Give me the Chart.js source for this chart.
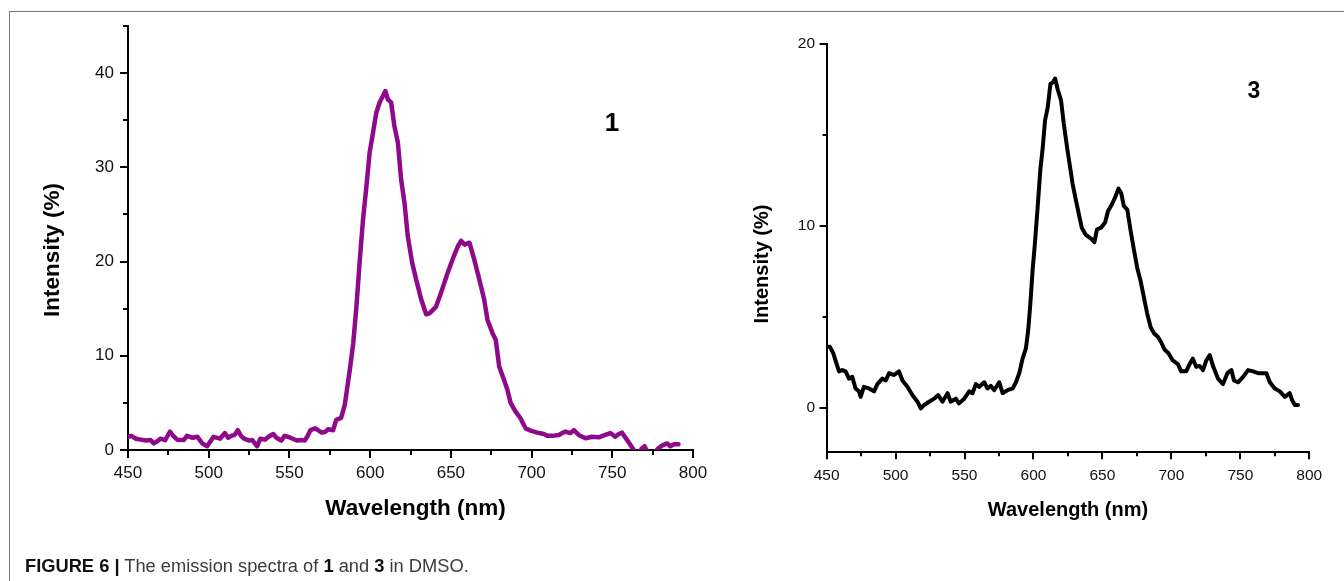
<!DOCTYPE html>
<html>
<head>
<meta charset="utf-8">
<script src="https://cdn.jsdelivr.net/npm/chart.js@4/dist/chart.umd.min.js"></script>
<style>
  html, body { margin: 0; padding: 0; background: #fff; }
  body { width: 1344px; height: 581px; position: relative; overflow: hidden; font-family: 'Liberation Sans', Arial, sans-serif; }
  canvas { position: absolute; top: 0; }
  #c1 { left: 0; }
  #c2 { left: 720px; }
  .frameTop { position: absolute; left: 9px; top: 11px; width: 1335px; height: 0; border-top: 1px solid #7a7a7a; }
  .frameLeft { position: absolute; left: 9px; top: 11px; width: 0; height: 570px; border-left: 1px solid #7a7a7a; }
  .lbl { position: absolute; font-weight: bold; color: #000; text-align: center; }
  .caption { position: absolute; left: 25px; top: 556px; font-size: 18.3px; line-height: 20px; color: #3c3c3c; white-space: nowrap; }
  .caption b { color: #111; }
</style>
</head>
<body>
<div class="frameTop"></div>
<div class="frameLeft"></div>
<canvas id="c1" width="720" height="581"></canvas>
<canvas id="c2" width="624" height="581"></canvas>
<div class="lbl" style="left:597px; top:109px; width:30px; font-size:26px; line-height:26px;">1</div>
<div class="lbl" style="left:1239px; top:79px; width:30px; font-size:23px; line-height:23px;">3</div>
<div class="caption"><b>FIGURE 6 |</b> The emission spectra of <b>1</b> and <b>3</b> in DMSO.</div>
<script>
// ---------- data: compound 1 ----------
const wavelength1 = [450,452,455,458,461,464,466,468,470,473,476,478,480.5,484.5,486.5,490,493,496,499,501,503,507,510,512,514,516,518,520,522,525,527,530,532,535,537,540,542,545,547,550,552,554.5,557,559.5,561,563,566,570,572,574,577,579,582,584.3,587.4,589.5,591.5,593.6,595.6,597.7,599.7,601.8,603.8,605.9,608,609.4,611,613,615,617.2,619.2,621.3,623.3,626,628.5,631.6,634.7,636.7,640.8,643.9,648,651,654.3,656.3,658.4,661.5,664.5,667.6,670.6,672.7,675.8,677.8,679.9,683,685,687,690,693,696.3,699.4,703.5,707.6,710,712.8,716.9,719,721,724,726.2,729.2,733.4,737.5,741.6,745.7,748.8,751.8,754,756,759,762,764,766,768,770,772,775,778,781,784,786,788,791];
const intensity1 = [1.4,1.5,1.2,1.1,1.0,1.05,0.7,0.9,1.2,1.05,1.95,1.5,1.1,1.05,1.5,1.3,1.4,0.7,0.4,0.9,1.4,1.2,1.8,1.3,1.5,1.6,2.1,1.5,1.2,1.0,1.05,0.4,1.2,1.1,1.4,1.7,1.3,1.0,1.5,1.35,1.2,1.0,1.05,1.0,1.4,2.1,2.3,1.85,1.9,2.2,2.1,3.2,3.4,4.8,8.5,11.3,15.2,20.2,24.5,28,31.6,33.7,35.8,36.9,37.6,38.1,37.2,36.9,34.4,32.6,28.7,26.2,22.7,19.9,18.1,16.0,14.4,14.5,15.2,16.7,18.8,20.2,21.6,22.2,21.8,22.0,20.2,18.1,16.0,13.8,12.4,11.7,8.9,7.4,6.4,5.0,4.1,3.4,2.3,2.06,1.84,1.7,1.5,1.5,1.6,1.8,1.95,1.8,2.1,1.6,1.24,1.4,1.35,1.6,1.8,1.4,1.7,1.84,1.1,0.35,-0.2,-0.5,0.1,0.4,-0.3,-0.6,0.1,0.5,0.7,0.4,0.6,0.6];

// ---------- data: compound 3 ----------
const wavelength3 = [450,452.4,454.8,457.3,459,461.4,463.8,466.2,468.6,471,473.5,474.7,477,480.8,484.4,486.8,490.4,492.9,495.3,498.9,502.5,505,508.6,512.2,515.9,518.3,520.7,524.3,528,530.9,534,537.7,540,543.7,546,549.8,553.4,555.8,558.2,560.7,564.3,566.7,569.1,571.5,575.2,577.6,581.2,584.9,587.3,589.7,592.1,594.5,596.2,597.7,599.4,601,603,605,606.7,608.4,610.3,612.3,614.2,615.7,617.6,620,622,624.4,626.8,628.4,630.8,633.3,635,638,641.8,644.2,646,649,652,654,657,659.4,661.6,663.6,665.5,668,670.3,672.8,675.2,677.6,680,682.4,684.9,687.3,690.2,692.6,695,697.9,701,704.7,707.1,710.7,713.2,715.5,718,720.5,722.9,725.3,727.8,730.2,733.8,737.4,740.6,743.5,745.4,748.3,752,755.6,759.2,762.9,766.5,768.9,771.4,775,778.6,782.3,785.8,787.5,789.5,791.8];
const intensity3 = [3.35,3.35,3.0,2.4,2.0,2.07,2.0,1.6,1.7,1.06,0.9,0.6,1.15,1.06,0.9,1.3,1.6,1.5,1.9,1.8,2.0,1.5,1.15,0.7,0.33,-0.04,0.15,0.33,0.5,0.7,0.33,0.8,0.33,0.5,0.24,0.5,0.9,0.8,1.3,1.15,1.4,1.06,1.2,0.97,1.4,0.8,0.97,1.06,1.4,1.9,2.7,3.26,4.27,5.7,7.6,9.0,11.0,13.1,14.3,15.8,16.5,17.8,17.9,18.1,17.5,16.9,15.6,14.3,13.1,12.3,11.4,10.5,9.9,9.5,9.3,9.1,9.8,9.9,10.2,10.8,11.2,11.6,12.05,11.8,11.1,10.9,9.8,8.7,7.7,7.0,6.1,5.2,4.45,4.1,3.9,3.6,3.2,3.0,2.6,2.4,2.0,2.0,2.4,2.7,2.25,2.3,2.07,2.6,2.9,2.3,1.6,1.3,1.9,2.07,1.5,1.4,1.7,2.07,2.0,1.9,1.9,1.9,1.4,1.06,0.9,0.6,0.8,0.42,0.15,0.15];

// ---------- axis ranges / tick labels ----------
const xTickLabels = [450, 500, 550, 600, 650, 700, 750, 800];
const yTickLabels1 = [0, 10, 20, 30, 40];
const yTickLabels3 = [0, 10, 20];

const FONT = "'Liberation Sans', Arial, Helvetica, sans-serif";
Chart.defaults.font.family = FONT;

function isMult(v, s) { return Math.abs(v / s - Math.round(v / s)) < 1e-6; }

function deco(cfg) {
  return {
    id: 'deco',
    afterDraw(chart) {
      const { ctx, chartArea: a, scales: { x, y } } = chart;
      ctx.save();
      ctx.strokeStyle = '#000';
      ctx.lineWidth = 2;
      x.ticks.forEach(t => {
        if (!isMult(t.value, cfg.xMinor)) return;
        const major = isMult(t.value, cfg.xMajor);
        const px = Math.round(x.getPixelForValue(t.value));
        ctx.beginPath();
        ctx.moveTo(px, a.bottom);
        ctx.lineTo(px, a.bottom + (major ? cfg.majorLen : cfg.minorLen));
        ctx.stroke();
      });
      y.ticks.forEach(t => {
        if (!isMult(t.value, cfg.yMinor)) return;
        const major = isMult(t.value, cfg.yMajor);
        const py = Math.round(y.getPixelForValue(t.value));
        ctx.beginPath();
        ctx.moveTo(a.left, py);
        ctx.lineTo(a.left - (major ? cfg.majorLen : cfg.minorLen), py);
        ctx.stroke();
      });
      ctx.fillStyle = '#000';
      ctx.font = 'bold ' + cfg.titleSize + 'px ' + FONT;
      ctx.textAlign = 'center';
      ctx.textBaseline = 'middle';
      ctx.fillText(cfg.xTitle, cfg.xTitleX, cfg.xTitleY);
      ctx.translate(cfg.yTitleX, cfg.yTitleY);
      ctx.rotate(-Math.PI / 2);
      ctx.fillText(cfg.yTitle, 0, 0);
      ctx.restore();
    }
  };
}

function makeChart(id, wl, vals, o) {
  const data = wl.map((w, i) => ({ x: w, y: vals[i] }));
  return new Chart(document.getElementById(id), {
    type: 'line',
    data: { datasets: [{ data, borderColor: o.color, borderWidth: o.lineWidth, pointRadius: 0, tension: 0, borderJoinStyle: 'round', borderCapStyle: 'round', fill: false }] },
    options: {
      responsive: false,
      animation: false,
      events: [],
      layout: { padding: o.padding },
      plugins: { legend: { display: false }, tooltip: { enabled: false } },
      scales: {
        x: {
          type: 'linear', min: 450, max: 800,
          afterFit: s => { s.height = o.xAxisH; },
          grid: { display: false, drawTicks: false },
          border: { display: true, color: '#000', width: 2 },
          ticks: {
            stepSize: 25, autoSkip: false, maxRotation: 0, padding: o.xPad, color: '#111',
            font: { size: o.tickSize },
            callback: v => xTickLabels.includes(v) ? String(v) : ''
          }
        },
        y: {
          type: 'linear', min: o.yMin, max: o.yMax,
          afterFit: s => { s.width = o.yAxisW; },
          grid: { display: false, drawTicks: false },
          border: { display: true, color: '#000', width: 2 },
          ticks: {
            stepSize: 5, autoSkip: false, padding: o.yPad, color: '#111',
            font: { size: o.tickSize },
            callback: v => o.yLabels.includes(v) ? String(v) : ''
          }
        }
      }
    },
    plugins: [deco(o.deco)]
  });
}

makeChart('c1', wavelength1, intensity1, {
  color: '#8e0a8a', lineWidth: 4.5,
  padding: { left: 28, top: 26, right: 24.4, bottom: 61 },
  xAxisH: 70, yAxisW: 100, xPad: 12.8, yPad: 14, tickSize: 17,
  yMin: 0, yMax: 45, yLabels: yTickLabels1,
  deco: { xMinor: 25, xMajor: 50, yMinor: 5, yMajor: 10, majorLen: 8, minorLen: 5,
          titleSize: 22.5, xTitle: 'Wavelength (nm)', xTitleX: 415.5, xTitleY: 509,
          yTitle: 'Intensity (%)', yTitleX: 52.5, yTitleY: 250 }
});

makeChart('c2', wavelength3, intensity3, {
  color: '#000', lineWidth: 4,
  padding: { left: 16.6, top: 44, right: 34.7, bottom: 58.7 },
  xAxisH: 70, yAxisW: 90, xPad: 13.7, yPad: 11.6, tickSize: 15.5,
  yMin: -2.45, yMax: 20, yLabels: yTickLabels3,
  deco: { xMinor: 25, xMajor: 50, yMinor: 5, yMajor: 10, majorLen: 7, minorLen: 4,
          titleSize: 20, xTitle: 'Wavelength (nm)', xTitleX: 348, xTitleY: 510,
          yTitle: 'Intensity (%)', yTitleX: 42.3, yTitleY: 264 }
});
</script>
</body>
</html>
